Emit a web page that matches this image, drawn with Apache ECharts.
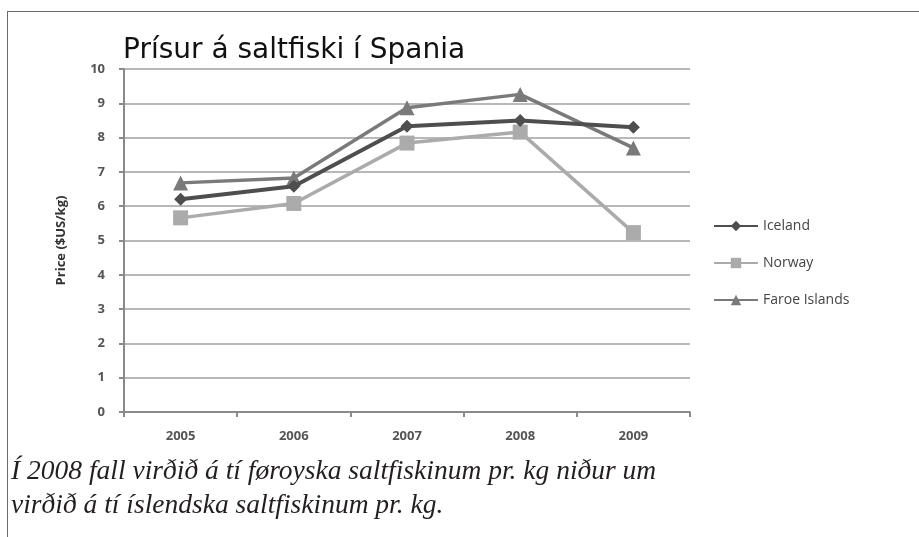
<!DOCTYPE html>
<html>
<head>
<meta charset="utf-8">
<script src="https://cdn.jsdelivr.net/npm/echarts@6/dist/echarts.min.js"></script>
<style>
  html, body { margin: 0; padding: 0; background: #fff; }
  #wrap { position: relative; width: 919px; height: 537px; overflow: hidden; }
  #frame { position: absolute; left: 7px; top: 11px; width: 940px; height: 540px;
           border-left: 1.5px solid #6a6a6a; border-top: 1.5px solid #6a6a6a; }
  #chart { position: absolute; left: 0; top: 0; width: 919px; height: 537px; }
  #caption { position: absolute; left: 11px; top: 453px; width: 720px;
             font-family: 'Liberation Serif', serif; font-style: italic;
             font-size: 27.5px; line-height: 34px; color: #231f20; }
</style>
</head>
<body>
<div id="wrap">
  <div id="frame"></div>
  <div id="chart"></div>
  <div id="caption">Í 2008 fall virðið á tí føroyska saltfiskinum pr. kg niður um<br>virðið á tí íslendska saltfiskinum pr. kg.</div>
</div>
<script>
// years and prices (USD per kg)
const years = ['2005', '2006', '2007', '2008', '2009']
const iceland = [6.2, 6.58, 8.33, 8.5, 8.3]
const norway = [5.66, 6.08, 7.84, 8.16, 5.23]
const faroe = [6.68, 6.82, 8.87, 9.26, 7.7]

const chart = echarts.init(document.getElementById('chart'))

const labelFont = { fontFamily: 'Open Sans', fontWeight: 'bold', fontSize: 13, color: '#555' }

chart.setOption({
  animation: false,
  title: {
    text: 'Prísur á saltfiski í Spania',
    left: 118,
    top: 32,
    textStyle: { fontFamily: 'DejaVu Sans', fontWeight: 'normal', fontSize: 28, color: '#111' }
  },
  legend: {
    orient: 'vertical',
    left: 708,
    top: 214,
    itemWidth: 44,
    itemHeight: 13,
    itemGap: 23,
    textStyle: { fontFamily: 'Open Sans', fontSize: 14, color: '#444' },
    data: ['Iceland', 'Norway', 'Faroe Islands']
  },
  grid: { left: 124, right: 229, top: 69, bottom: 125 },
  xAxis: {
    type: 'category',
    data: years,
    boundaryGap: true,
    axisLine: { lineStyle: { color: '#8a8a8a', width: 2 } },
    axisTick: { show: true, length: 5, lineStyle: { color: '#8a8a8a', width: 2 } },
    axisLabel: Object.assign({ margin: 18 }, labelFont)
  },
  yAxis: {
    type: 'value',
    min: 0,
    max: 10,
    interval: 1,
    name: 'Price ($US/kg)',
    nameLocation: 'middle',
    nameGap: 56,
    nameTextStyle: { fontFamily: 'Open Sans', fontWeight: 'bold', fontSize: 13, color: '#333' },
    axisLine: { show: true, lineStyle: { color: '#8a8a8a', width: 2 } },
    axisTick: { show: true, length: 5, lineStyle: { color: '#8a8a8a', width: 2 } },
    axisLabel: Object.assign({ margin: 19 }, labelFont),
    splitLine: { lineStyle: { color: '#b8b8b8', width: 2 } }
  },
  series: [
    {
      name: 'Iceland',
      type: 'line',
      data: iceland,
      symbol: 'diamond',
      symbolSize: 13,
      lineStyle: { color: '#4e4e4e', width: 4 },
      itemStyle: { color: '#4e4e4e' },
      z: 4
    },
    {
      name: 'Norway',
      type: 'line',
      data: norway,
      symbol: 'rect',
      symbolSize: 15,
      lineStyle: { color: '#ababab', width: 3.5 },
      itemStyle: { color: '#ababab' },
      z: 2
    },
    {
      name: 'Faroe Islands',
      type: 'line',
      data: faroe,
      symbol: 'triangle',
      symbolSize: 15,
      lineStyle: { color: '#7a7a7a', width: 3.5 },
      itemStyle: { color: '#7a7a7a' },
      z: 3
    }
  ]
})
</script>
</body>
</html>
